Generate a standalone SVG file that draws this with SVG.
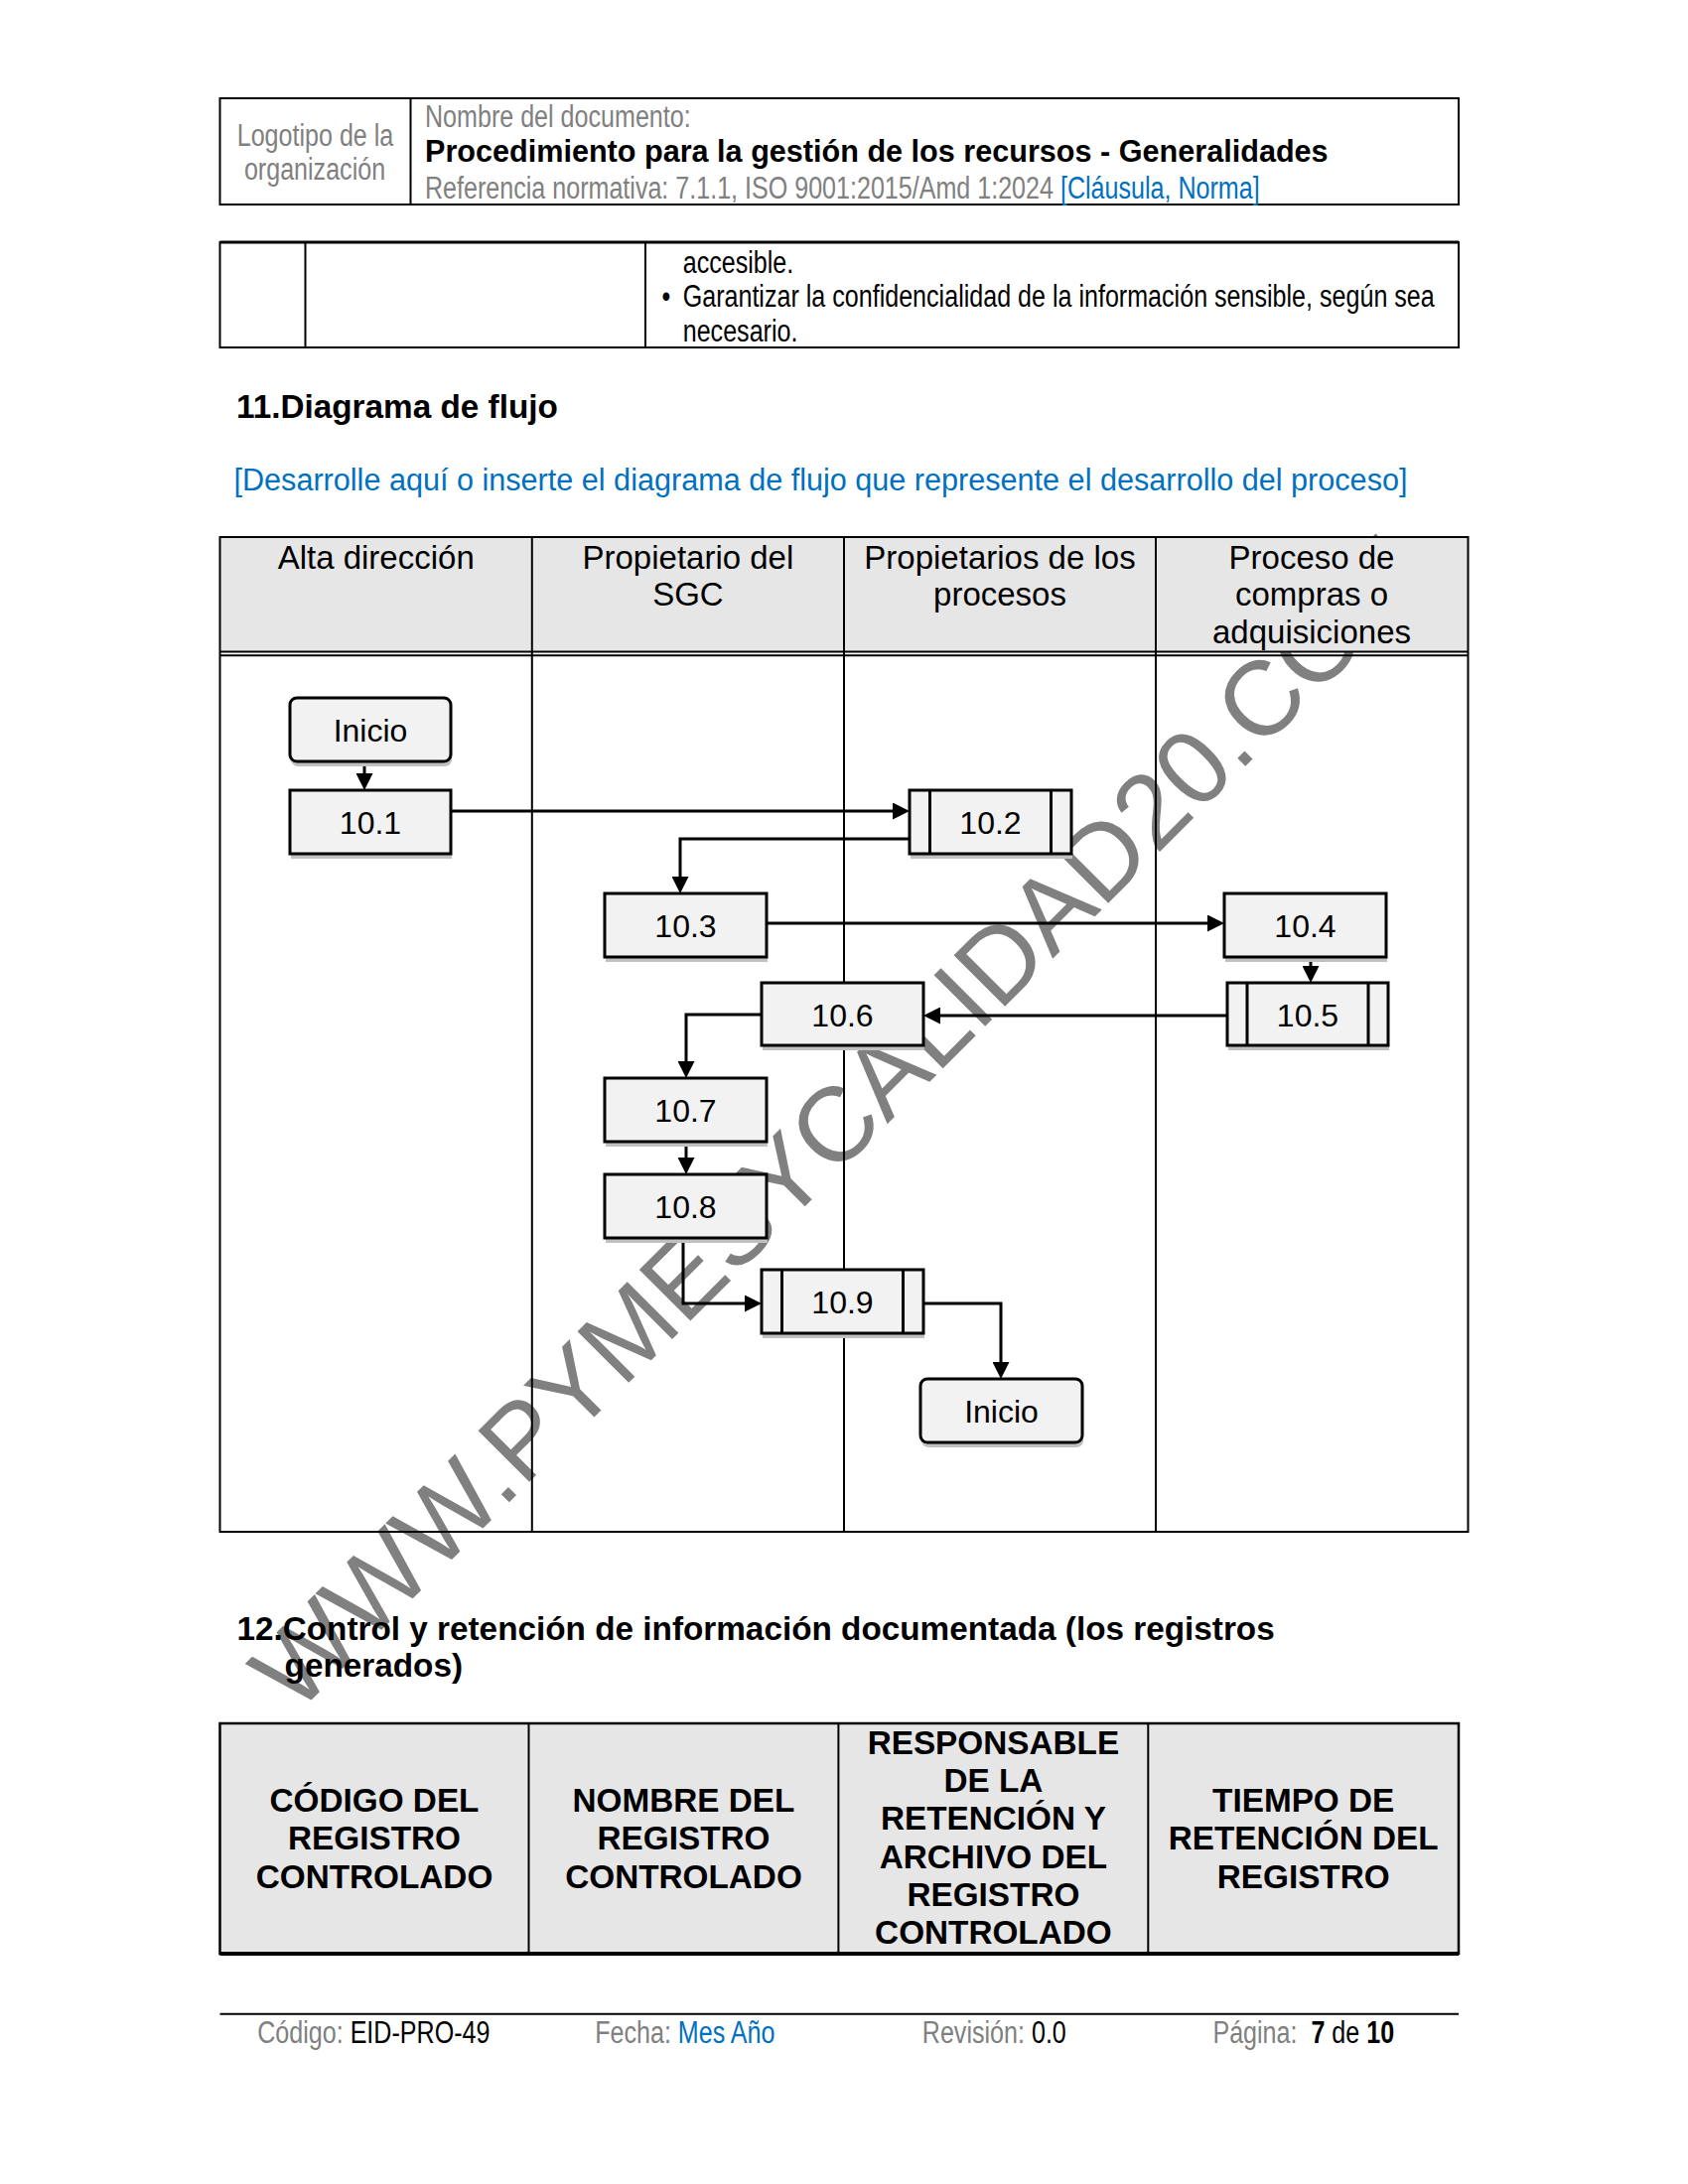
<svg xmlns="http://www.w3.org/2000/svg" width="1700" height="2200" viewBox="0 0 1700 2200">
<defs>
<style>
text { font-family: "Liberation Sans", Arial, sans-serif; fill: #000; }
.nar { font-size: 30.6px; }
.gray { fill: #808080; }
.blue { fill: #0070C0; }
.bold { font-weight: bold; }
.lane { font-size: 33px; text-anchor: middle; }
.box { fill: #f2f2f2; stroke: #000; stroke-width: 3; }
.bar { stroke: #000; stroke-width: 3; }
.shadow { fill: #c0c0c0; }
.lbl { font-size: 32px; text-anchor: middle; }
.conn path { fill: none; stroke: #000; stroke-width: 3; marker-end: url(#arr); }
.tbl { fill: none; stroke: #000; stroke-width: 2; }
.ln { stroke: #000; stroke-width: 2; }
.th { font-size: 33.3px; font-weight: bold; text-anchor: middle; }
.wm { font-size: 106px; fill: #808080; }
</style>
<marker id="arr" markerUnits="userSpaceOnUse" markerWidth="17" markerHeight="17" viewBox="0 0 17 17" refX="13" refY="8.5" orient="auto">
<path d="M0,0 L17,8.5 L0,17 z" fill="#000"/>
</marker>
</defs>

<rect x="0" y="0" width="1700" height="2200" fill="#fff"/>

<!-- watermark (behind content) -->
<g id="watermark">
<text class="wm" x="298" y="1728" transform="rotate(-45 298 1728)">WWW.PYMESYCALIDAD20.COM</text>
</g>

<!-- document header -->
<g id="doc-header">
<rect class="tbl" x="221.5" y="99" width="1247.5" height="107"/>
<line class="ln" x1="413.5" y1="99" x2="413.5" y2="206"/>
<text class="nar gray" text-anchor="middle" transform="translate(317.5,147) scale(0.82,1)">Logotipo de la</text>
<text class="nar gray" text-anchor="middle" transform="translate(317,181.3) scale(0.82,1)">organización</text>
<text class="nar gray" transform="translate(428,128) scale(0.82,1)">Nombre del documento:</text>
<text class="bold" x="428" y="163" font-size="30.6">Procedimiento para la gestión de los recursos - Generalidades</text>
<text class="nar gray" transform="translate(428,199.5) scale(0.82,1)">Referencia normativa: 7.1.1, ISO 9001:2015/Amd 1:2024 <tspan class="blue">[Cláusula, Norma]</tspan></text>
</g>

<!-- continuation table -->
<g id="prev-table">
<rect class="tbl" x="221.5" y="244" width="1247.5" height="106"/>
<line x1="221.5" y1="244" x2="1469" y2="244" stroke="#000" stroke-width="3"/>
<line class="ln" x1="307.5" y1="244" x2="307.5" y2="350"/>
<line class="ln" x1="650" y1="244" x2="650" y2="350"/>
<text class="nar" transform="translate(687.7,274.5) scale(0.82,1)">accesible.</text>
<text class="nar" text-anchor="middle" transform="translate(671,309) scale(0.82,1)">•</text>
<text class="nar" transform="translate(687.7,309) scale(0.82,1)">Garantizar la confidencialidad de la información sensible, según sea</text>
<text class="nar" transform="translate(687.7,344) scale(0.82,1)">necesario.</text>
</g>

<!-- section 11 -->
<g id="section11">
<text class="bold" x="238" y="420.7" font-size="33.3">11.Diagrama de flujo</text>
<text class="blue" x="235.5" y="494" font-size="30.6">[Desarrolle aquí o inserte el diagrama de flujo que represente el desarrollo del proceso]</text>
</g>

<!-- swimlanes -->
<g id="lanes">
<rect x="221.5" y="541" width="1257" height="116" fill="#e6e6e6"/>
<rect class="tbl" x="221.5" y="541" width="1257" height="1002"/>
<line class="ln" x1="535.8" y1="541" x2="535.8" y2="1543"/>
<line class="ln" x1="850" y1="541" x2="850" y2="1543"/>
<line class="ln" x1="1164" y1="541" x2="1164" y2="1543"/>
<line class="ln" x1="221.5" y1="656.5" x2="1478.5" y2="656.5"/>
<line class="ln" x1="221.5" y1="660.3" x2="1478.5" y2="660.3"/>
<text class="lane" x="378.7" y="573.3">Alta dirección</text>
<text class="lane" x="692.9" y="573.3">Propietario del</text>
<text class="lane" x="692.9" y="610">SGC</text>
<text class="lane" x="1007" y="573.3">Propietarios de los</text>
<text class="lane" x="1007" y="610">procesos</text>
<text class="lane" x="1321" y="573.3">Proceso de</text>
<text class="lane" x="1321" y="610">compras o</text>
<text class="lane" x="1321" y="647.5">adquisiciones</text>
</g>

<!-- connectors -->
<g id="connectors" class="conn">
<path d="M367,767 V792"/>
<path d="M454,817 H912"/>
<path d="M916,845 H685 V896"/>
<path d="M772,930 H1229" stroke-width="2.5"/>
<path d="M1320,964 V986"/>
<path d="M1236,1023 H934"/>
<path d="M767,1022 H691 V1082"/>
<path d="M691,1150 V1179"/>
<path d="M688,1247 V1313 H763"/>
<path d="M930,1313 H1008 V1385"/>
</g>

<!-- nodes -->
<g id="node-inicio1">
<rect class="shadow" x="293" y="708" width="162" height="64" rx="7"/>
<rect class="box" x="292" y="703" width="162" height="64" rx="7"/>
<text class="lbl" x="373" y="746.5">Inicio</text>
</g>
<g id="node-10-1">
<rect class="shadow" x="293" y="801" width="162" height="64"/>
<rect class="box" x="292" y="796" width="162" height="64"/>
<text class="lbl" x="373" y="840">10.1</text>
</g>
<g id="node-10-2">
<rect class="shadow" x="917" y="801" width="163" height="64"/>
<rect class="box" x="916" y="796" width="163" height="64"/>
<line class="bar" x1="936.5" y1="796" x2="936.5" y2="860"/>
<line class="bar" x1="1058.5" y1="796" x2="1058.5" y2="860"/>
<text class="lbl" x="997.5" y="840">10.2</text>
</g>
<g id="node-10-3">
<rect class="shadow" x="610" y="905" width="163" height="64"/>
<rect class="box" x="609" y="900" width="163" height="64"/>
<text class="lbl" x="690.5" y="944">10.3</text>
</g>
<g id="node-10-4">
<rect class="shadow" x="1234" y="905" width="163" height="64"/>
<rect class="box" x="1233" y="900" width="163" height="64"/>
<text class="lbl" x="1314.5" y="944">10.4</text>
</g>
<g id="node-10-5">
<rect class="shadow" x="1237" y="995" width="162" height="63"/>
<rect class="box" x="1236" y="990" width="162" height="63"/>
<line class="bar" x1="1256" y1="990" x2="1256" y2="1053"/>
<line class="bar" x1="1378" y1="990" x2="1378" y2="1053"/>
<text class="lbl" x="1317" y="1033.5">10.5</text>
</g>
<g id="node-10-6">
<rect class="shadow" x="768" y="995" width="163" height="63"/>
<rect class="box" x="767" y="990" width="163" height="63"/>
<text class="lbl" x="848.5" y="1033.5">10.6</text>
</g>
<g id="node-10-7">
<rect class="shadow" x="610" y="1091" width="163" height="64"/>
<rect class="box" x="609" y="1086" width="163" height="64"/>
<text class="lbl" x="690.5" y="1130">10.7</text>
</g>
<g id="node-10-8">
<rect class="shadow" x="610" y="1188" width="163" height="64"/>
<rect class="box" x="609" y="1183" width="163" height="64"/>
<text class="lbl" x="690.5" y="1227">10.8</text>
</g>
<g id="node-10-9">
<rect class="shadow" x="768" y="1284" width="163" height="64"/>
<rect class="box" x="767" y="1279" width="163" height="64"/>
<line class="bar" x1="787.5" y1="1279" x2="787.5" y2="1343"/>
<line class="bar" x1="909.5" y1="1279" x2="909.5" y2="1343"/>
<text class="lbl" x="848.5" y="1323">10.9</text>
</g>
<g id="node-inicio2">
<rect class="shadow" x="928" y="1394" width="163" height="64" rx="7"/>
<rect class="box" x="927" y="1389" width="163" height="64" rx="7"/>
<text class="lbl" x="1008.5" y="1432.5">Inicio</text>
</g>

<!-- section 12 -->
<g id="section12">
<text class="bold" x="238.4" y="1652" font-size="33.3">12.Control y retención de información documentada (los registros</text>
<text class="bold" x="286.6" y="1688.5" font-size="33.3">generados)</text>
<rect x="221.5" y="1736" width="1247.5" height="232" fill="#e6e6e6" stroke="#000" stroke-width="2.5"/>
<line x1="221.5" y1="1968" x2="1469" y2="1968" stroke="#000" stroke-width="4"/>
<line class="ln" x1="532.5" y1="1736" x2="532.5" y2="1968"/>
<line class="ln" x1="844.4" y1="1736" x2="844.4" y2="1968"/>
<line class="ln" x1="1156.3" y1="1736" x2="1156.3" y2="1968"/>
<text class="th" x="377" y="1825">CÓDIGO DEL</text>
<text class="th" x="377" y="1863.3">REGISTRO</text>
<text class="th" x="377" y="1901.6">CONTROLADO</text>
<text class="th" x="688.5" y="1825">NOMBRE DEL</text>
<text class="th" x="688.5" y="1863.3">REGISTRO</text>
<text class="th" x="688.5" y="1901.6">CONTROLADO</text>
<text class="th" x="1000.4" y="1766.7">RESPONSABLE</text>
<text class="th" x="1000.4" y="1805">DE LA</text>
<text class="th" x="1000.4" y="1843.3">RETENCIÓN Y</text>
<text class="th" x="1000.4" y="1881.7">ARCHIVO DEL</text>
<text class="th" x="1000.4" y="1920">REGISTRO</text>
<text class="th" x="1000.4" y="1958.3">CONTROLADO</text>
<text class="th" x="1312.7" y="1825">TIEMPO DE</text>
<text class="th" x="1312.7" y="1863.3">RETENCIÓN DEL</text>
<text class="th" x="1312.7" y="1901.6">REGISTRO</text>
</g>

<!-- footer -->
<g id="footer">
<line x1="221.5" y1="2028.7" x2="1469" y2="2028.7" stroke="#000" stroke-width="2"/>
<text class="nar" transform="translate(259.2,2058) scale(0.82,1)"><tspan class="gray">Código: </tspan>EID-PRO-49</text>
<text class="nar" transform="translate(599.2,2058) scale(0.82,1)"><tspan class="gray">Fecha: </tspan><tspan class="blue">Mes Año</tspan></text>
<text class="nar" transform="translate(928.8,2058) scale(0.82,1)"><tspan class="gray">Revisión: </tspan>0.0</text>
<text class="nar" transform="translate(1221.4,2058) scale(0.82,1)"><tspan class="gray">Página: &#160;</tspan><tspan class="bold">7</tspan> de <tspan class="bold">10</tspan></text>
</g>
</svg>
